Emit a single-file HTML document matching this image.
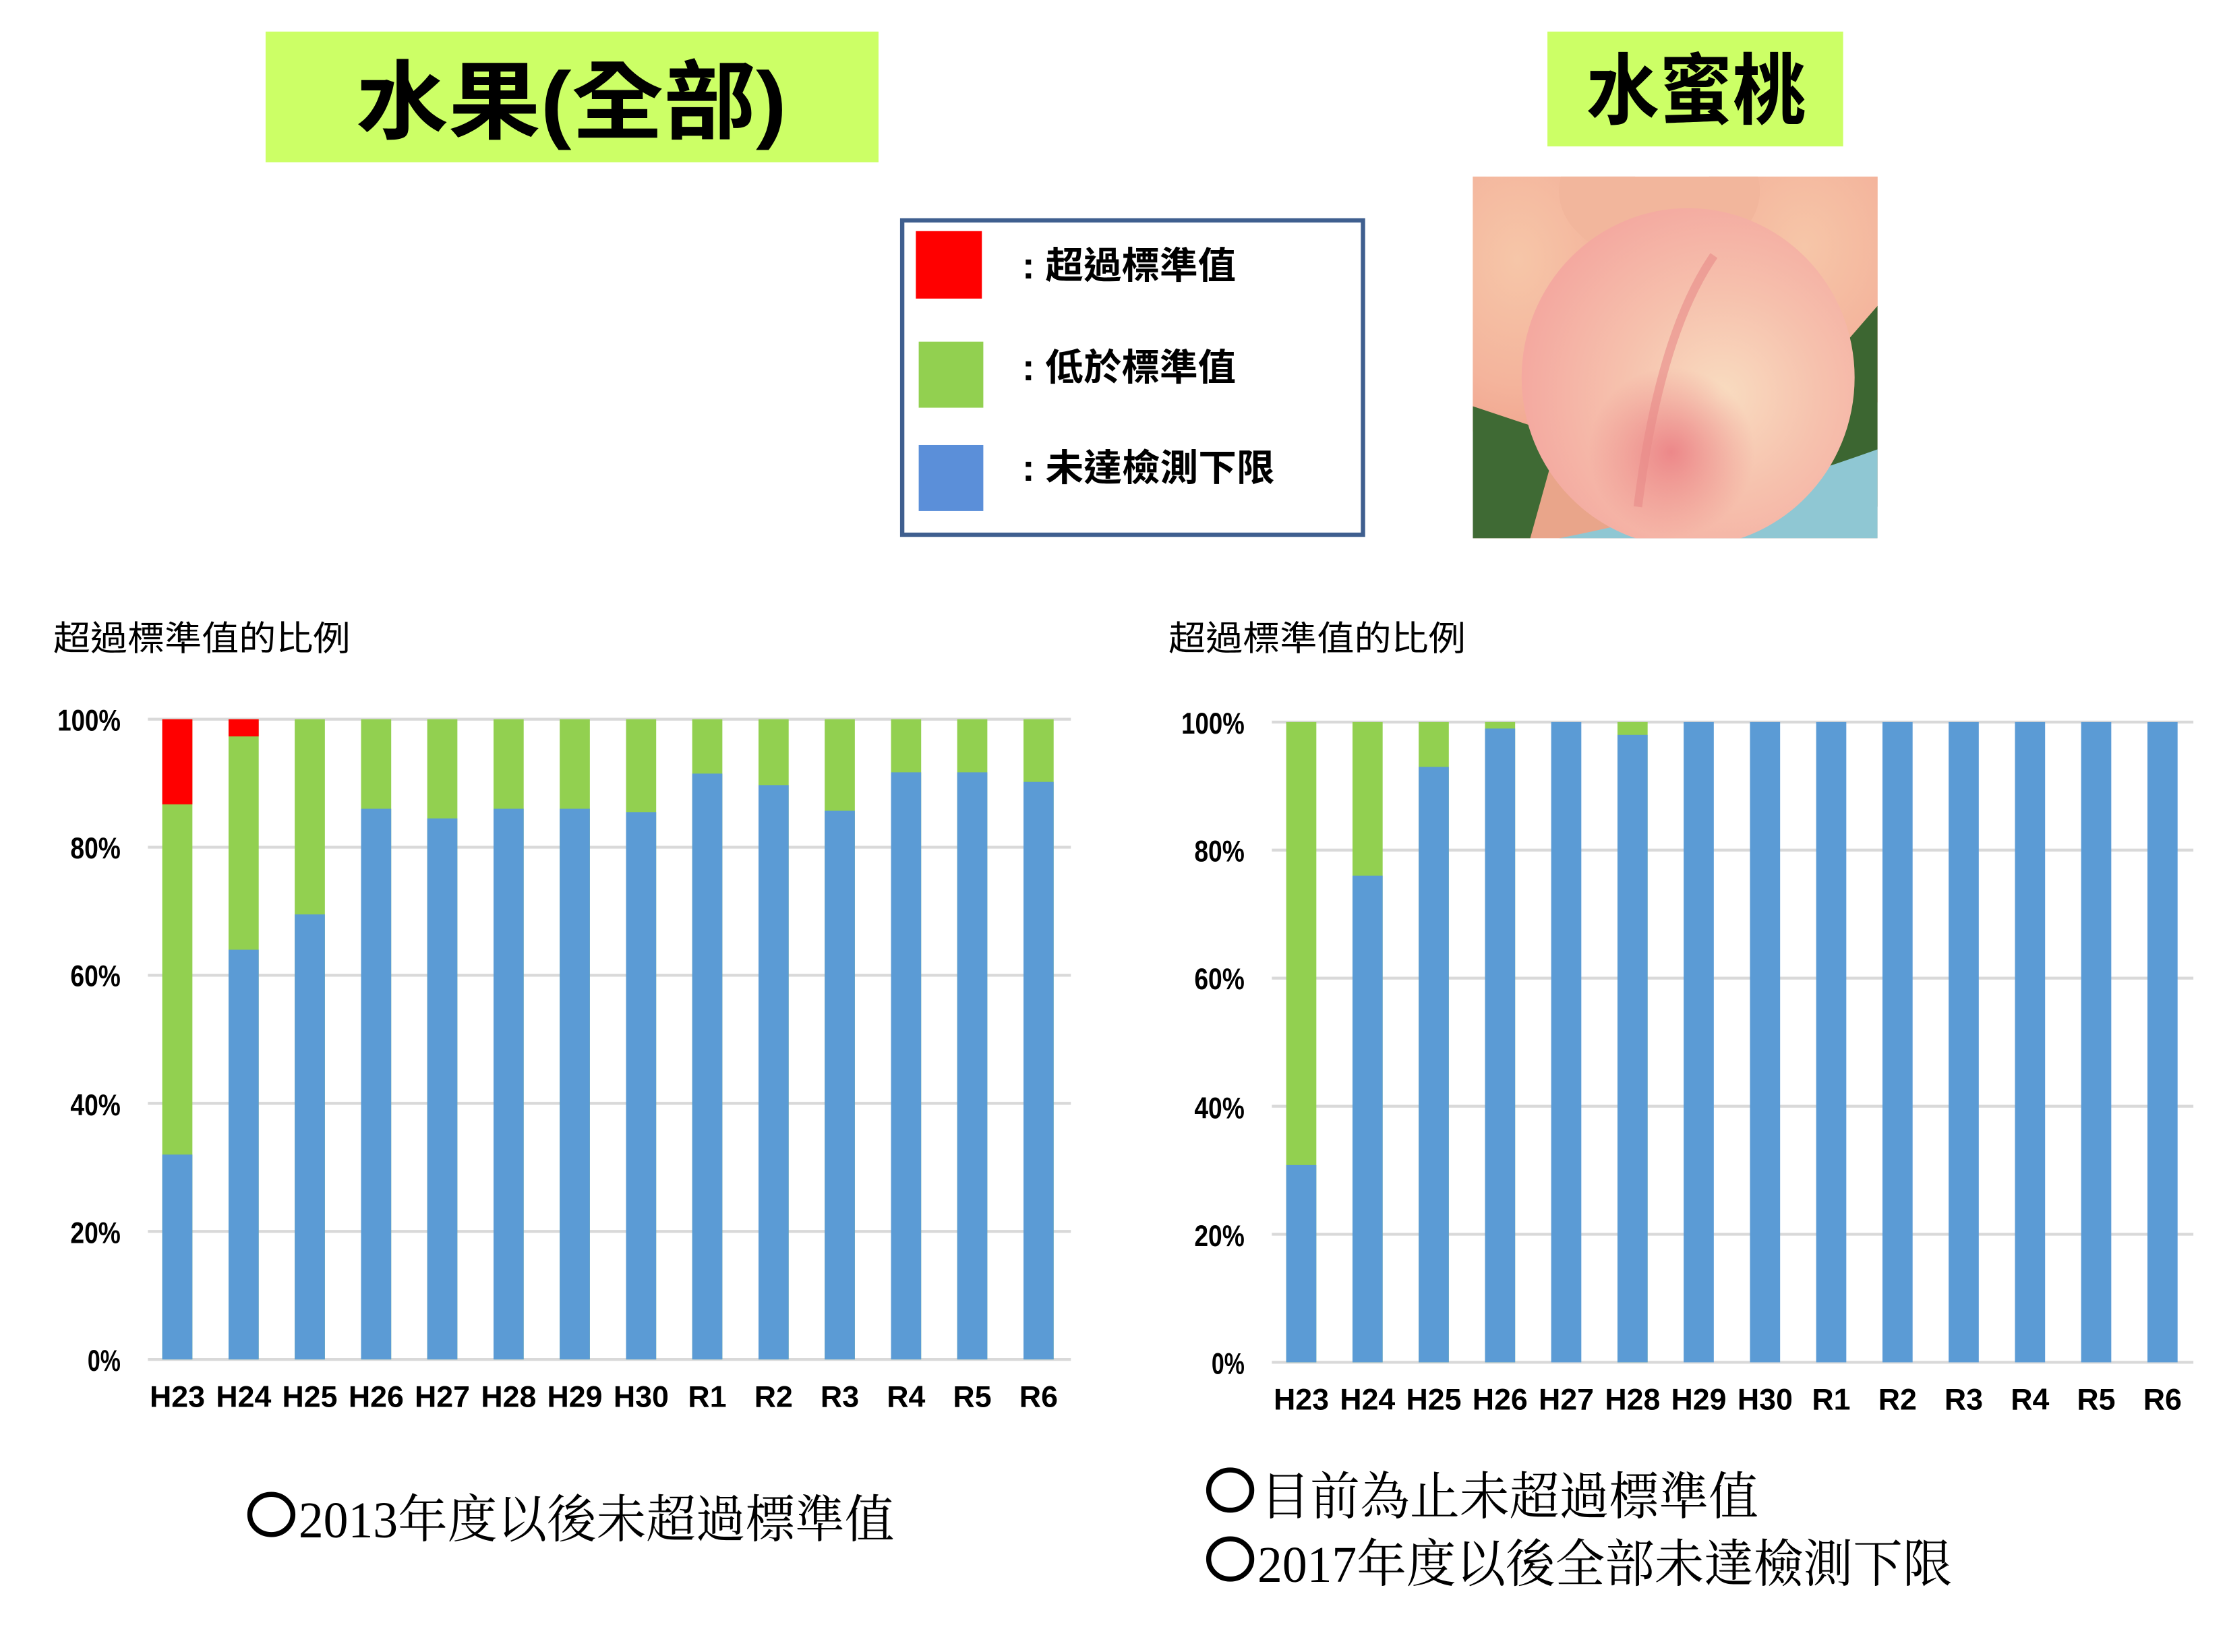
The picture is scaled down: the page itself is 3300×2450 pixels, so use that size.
<!DOCTYPE html>
<html><head><meta charset="utf-8"><style>html,body{margin:0;padding:0;background:#fff}svg{display:block}</style></head>
<body>
<svg width="3300" height="2450" viewBox="0 0 1550 1150.8" xmlns="http://www.w3.org/2000/svg">
<defs>
<radialGradient id="pk" cx="0.45" cy="0.45" r="0.6"><stop offset="0" stop-color="#f6c6a8"/><stop offset="0.6" stop-color="#f4b49c"/><stop offset="1" stop-color="#f0a08a"/></radialGradient>
<radialGradient id="bp" cx="0.6" cy="0.55" r="0.6"><stop offset="0" stop-color="#f9dcc0"/><stop offset="0.5" stop-color="#f6c1ad"/><stop offset="1" stop-color="#f4a9a0"/></radialGradient>
<radialGradient id="bl" cx="0.45" cy="0.72" r="0.25"><stop offset="0" stop-color="#e86c78" stop-opacity="0.7"/><stop offset="1" stop-color="#e86c78" stop-opacity="0"/></radialGradient>
</defs>
<g font-family="'Liberation Sans','Noto Sans CJK TC',sans-serif">
<rect x="185" y="22" width="427" height="91" fill="#ccff66"/>
<text x="248" y="92" font-size="60" font-weight="bold" textLength="300" lengthAdjust="spacingAndGlyphs">水果(全部)</text>
<rect x="1078" y="22" width="206" height="80" fill="#ccff66"/>
<text x="1105" y="82" font-size="54" font-weight="bold" textLength="153" lengthAdjust="spacingAndGlyphs">水蜜桃</text>

<rect x="628.5" y="153.5" width="321" height="219" fill="#fff" stroke="#3f5f8f" stroke-width="3"/>
<rect x="638" y="161" width="46" height="47" fill="#ff0000"/>
<rect x="640" y="238" width="45" height="46" fill="#92d050"/>
<rect x="640" y="310" width="45" height="46" fill="#5b8fd9"/>
<text x="712" y="194" font-size="26" font-weight="bold" textLength="149" lengthAdjust="spacingAndGlyphs">: 超過標準值</text>
<text x="712" y="265" font-size="26" font-weight="bold" textLength="149" lengthAdjust="spacingAndGlyphs">: 低於標準值</text>
<text x="712" y="335" font-size="26" font-weight="bold" textLength="176" lengthAdjust="spacingAndGlyphs">: 未達檢測下限</text>

<svg x="1026" y="123" width="282" height="252" viewBox="0 0 282 252">
<rect width="282" height="252" fill="#e9a58a"/>
<ellipse cx="40" cy="70" rx="90" ry="120" fill="url(#pk)"/>
<ellipse cx="240" cy="60" rx="90" ry="110" fill="url(#pk)"/>
<ellipse cx="130" cy="10" rx="70" ry="50" fill="#f2b69c"/>
<path d="M0 160 L60 180 L40 252 L0 252Z" fill="#3f6a34"/>
<path d="M282 90 L230 150 L250 230 L282 230Z" fill="#3c6631"/>
<path d="M60 252 Q170 230 282 190 L282 252Z" fill="#8fc7d3"/>
<ellipse cx="150" cy="140" rx="116" ry="118" fill="url(#bp)"/>
<ellipse cx="150" cy="140" rx="116" ry="118" fill="url(#bl)"/>
<path d="M168 55 Q130 110 115 230" stroke="#e88a88" stroke-width="6" fill="none" opacity="0.6"/>
</svg>

<text x="37" y="453" font-size="24" textLength="207" lengthAdjust="spacingAndGlyphs">超過標準值的比例</text>
<text x="814" y="453" font-size="24" textLength="207" lengthAdjust="spacingAndGlyphs">超過標準值的比例</text>

<!-- left chart -->
<g stroke="#d9d9d9" stroke-width="2">
<line x1="103" y1="501" x2="746" y2="501"/><line x1="103" y1="590.2" x2="746" y2="590.2"/><line x1="103" y1="679.4" x2="746" y2="679.4"/><line x1="103" y1="768.6" x2="746" y2="768.6"/><line x1="103" y1="857.8" x2="746" y2="857.8"/><line x1="103" y1="947" x2="746" y2="947"/>
<line x1="886" y1="503" x2="1528" y2="503"/><line x1="886" y1="592.2" x2="1528" y2="592.2"/><line x1="886" y1="681.4" x2="1528" y2="681.4"/><line x1="886" y1="770.6" x2="1528" y2="770.6"/><line x1="886" y1="859.8" x2="1528" y2="859.8"/><line x1="886" y1="949" x2="1528" y2="949"/>
</g>
<g fill="#92d050">
<rect x="113" y="501" width="21" height="446"/><rect x="159.2" y="501" width="21" height="446"/><rect x="205.3" y="501" width="21" height="446"/><rect x="251.5" y="501" width="21" height="446"/><rect x="297.6" y="501" width="21" height="446"/><rect x="343.8" y="501" width="21" height="446"/><rect x="389.9" y="501" width="21" height="446"/><rect x="436.1" y="501" width="21" height="446"/><rect x="482.2" y="501" width="21" height="446"/><rect x="528.4" y="501" width="21" height="446"/><rect x="574.5" y="501" width="21" height="446"/><rect x="620.7" y="501" width="21" height="446"/><rect x="666.8" y="501" width="21" height="446"/><rect x="713" y="501" width="21" height="446"/>
</g>
<g fill="#ff0000"><rect x="113" y="501" width="21" height="59.3"/><rect x="159.2" y="501" width="21" height="12"/></g>
<g fill="#5b9bd5">
<rect x="113" y="804.3" width="21" height="142.7"/><rect x="159.2" y="661.6" width="21" height="285.4"/><rect x="205.3" y="637" width="21" height="310"/><rect x="251.5" y="563.4" width="21" height="383.6"/><rect x="297.6" y="570.1" width="21" height="376.9"/><rect x="343.8" y="563.4" width="21" height="383.6"/><rect x="389.9" y="563.4" width="21" height="383.6"/><rect x="436.1" y="565.7" width="21" height="381.3"/><rect x="482.2" y="538.9" width="21" height="408.1"/><rect x="528.4" y="546.9" width="21" height="400.1"/><rect x="574.5" y="564.8" width="21" height="382.2"/><rect x="620.7" y="538" width="21" height="409"/><rect x="666.8" y="538" width="21" height="409"/><rect x="713" y="544.7" width="21" height="402.3"/>
</g>
<!-- right chart -->
<g fill="#92d050">
<rect x="896" y="503" width="21" height="446"/><rect x="942.2" y="503" width="21" height="446"/><rect x="988.3" y="503" width="21" height="446"/><rect x="1034.5" y="503" width="21" height="446"/><rect x="1126.8" y="503" width="21" height="446"/>
</g>
<g fill="#5b9bd5">
<rect x="896" y="811.6" width="21" height="137.4"/><rect x="942.2" y="610" width="21" height="339"/><rect x="988.3" y="534.2" width="21" height="414.8"/><rect x="1034.5" y="507.5" width="21" height="441.5"/><rect x="1080.6" y="503" width="21" height="446"/><rect x="1126.8" y="511.9" width="21" height="437.1"/><rect x="1172.9" y="503" width="21" height="446"/><rect x="1219.1" y="503" width="21" height="446"/><rect x="1265.2" y="503" width="21" height="446"/><rect x="1311.4" y="503" width="21" height="446"/><rect x="1357.5" y="503" width="21" height="446"/><rect x="1403.7" y="503" width="21" height="446"/><rect x="1449.8" y="503" width="21" height="446"/><rect x="1496" y="503" width="21" height="446"/>
</g>
<g font-size="21" font-weight="bold" text-anchor="end">
<text x="84" y="509" textLength="44" lengthAdjust="spacingAndGlyphs">100%</text><text x="84" y="598" textLength="35" lengthAdjust="spacingAndGlyphs">80%</text><text x="84" y="687" textLength="35" lengthAdjust="spacingAndGlyphs">60%</text><text x="84" y="777" textLength="35" lengthAdjust="spacingAndGlyphs">40%</text><text x="84" y="866" textLength="35" lengthAdjust="spacingAndGlyphs">20%</text><text x="84" y="955" textLength="23" lengthAdjust="spacingAndGlyphs">0%</text>
<text x="867" y="511" textLength="44" lengthAdjust="spacingAndGlyphs">100%</text><text x="867" y="600" textLength="35" lengthAdjust="spacingAndGlyphs">80%</text><text x="867" y="689" textLength="35" lengthAdjust="spacingAndGlyphs">60%</text><text x="867" y="779" textLength="35" lengthAdjust="spacingAndGlyphs">40%</text><text x="867" y="868" textLength="35" lengthAdjust="spacingAndGlyphs">20%</text><text x="867" y="957" textLength="23" lengthAdjust="spacingAndGlyphs">0%</text>
</g>
<g font-size="21" font-weight="bold" text-anchor="middle">
<text x="123.5" y="980">H23</text><text x="169.7" y="980">H24</text><text x="215.8" y="980">H25</text><text x="262" y="980">H26</text><text x="308.1" y="980">H27</text><text x="354.3" y="980">H28</text><text x="400.4" y="980">H29</text><text x="446.6" y="980">H30</text><text x="492.7" y="980">R1</text><text x="538.9" y="980">R2</text><text x="585" y="980">R3</text><text x="631.2" y="980">R4</text><text x="677.3" y="980">R5</text><text x="723.5" y="980">R6</text>
<text x="906.5" y="982">H23</text><text x="952.7" y="982">H24</text><text x="998.8" y="982">H25</text><text x="1045" y="982">H26</text><text x="1091.1" y="982">H27</text><text x="1137.3" y="982">H28</text><text x="1183.4" y="982">H29</text><text x="1229.6" y="982">H30</text><text x="1275.7" y="982">R1</text><text x="1321.9" y="982">R2</text><text x="1368" y="982">R3</text><text x="1414.2" y="982">R4</text><text x="1460.3" y="982">R5</text><text x="1506.5" y="982">R6</text>
</g>
</g>
<g font-family="'Liberation Serif','Noto Serif CJK SC',serif" font-size="36" fill="#000">
<ellipse cx="189" cy="1055" rx="15" ry="14" fill="none" stroke="#000" stroke-width="3.5"/>
<text x="208" y="1071" textLength="415" lengthAdjust="spacingAndGlyphs">2013年度以後未超過標準值</text>
<ellipse cx="857" cy="1038" rx="15" ry="14" fill="none" stroke="#000" stroke-width="3.5"/>
<text x="878" y="1055" textLength="347" lengthAdjust="spacingAndGlyphs">目前為止未超過標準值</text>
<ellipse cx="857" cy="1086" rx="15" ry="14" fill="none" stroke="#000" stroke-width="3.5"/>
<text x="876" y="1102" textLength="484" lengthAdjust="spacingAndGlyphs">2017年度以後全部未達檢測下限</text>
</g>
</svg>
</body></html>
